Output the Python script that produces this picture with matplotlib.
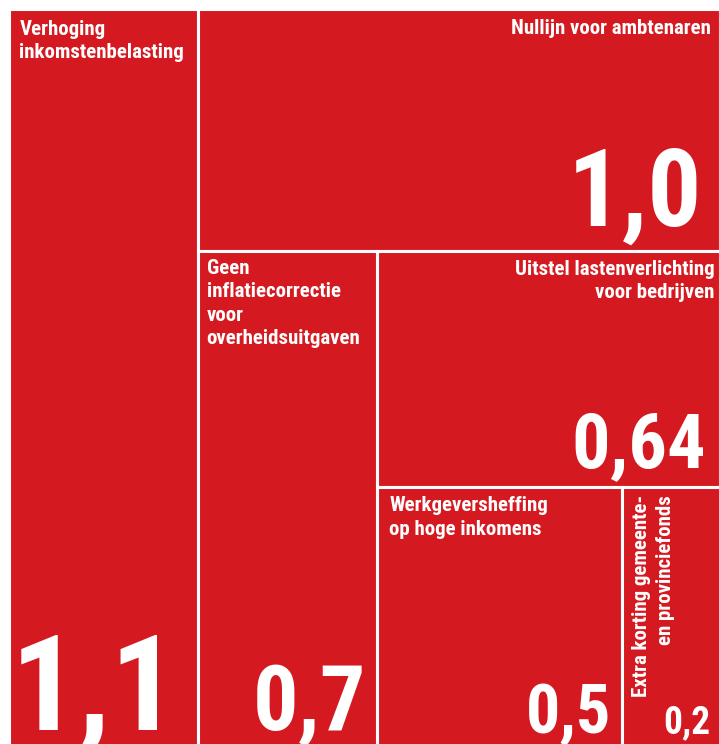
import matplotlib
matplotlib.use('Agg')
import matplotlib.pyplot as plt
from matplotlib.patches import Rectangle

# Data
labels = ['Verhoging\ninkomstenbelasting',
          'Nullijn voor ambtenaren',
          'Geen\ninflatiecorrectie\nvoor\noverheidsuitgaven',
          'Uitstel lastenverlichting\nvoor bedrijven',
          'Werkgeversheffing\nop hoge inkomens',
          'Extra korting gemeente-\nen provinciefonds']
values = [1.1, 1.0, 0.7, 0.64, 0.5, 0.2]
value_texts = ['1,1', '1,0', '0,7', '0,64', '0,5', '0,2']

RED = '#d51920'
FONT = ['Roboto Condensed', 'Liberation Sans', 'DejaVu Sans']


def slice_layout(vals, x, y, w, h):
    # alternate column / row slicing, largest first
    rects = []
    rest = sum(vals)
    vertical = True
    for v in vals:
        frac = v / rest
        if vertical:
            cw = w * frac
            rects.append((x, y, cw, h))
            x += cw
            w -= cw
        else:
            ch = h * frac
            rects.append((x, y, w, ch))
            y += ch
            h -= ch
        rest -= v
        vertical = not vertical
    return rects


W, H = 712, 737
fig = plt.figure(figsize=(7.19, 7.44), dpi=100)
ax = fig.add_axes([8.5 / 719, -1.5 / 744, W / 719, H / 744])
ax.set_xlim(0, W)
ax.set_ylim(H, 0)
ax.axis('off')

rects = slice_layout(values, 0, 0, W, H)
for (x, y, w, h) in rects:
    ax.add_patch(Rectangle((x, y), w, h, facecolor=RED, edgecolor='white',
                           linewidth=2.2, clip_on=False))

# label placement: (corner, dx, dy)
label_pos = [('tl', 11, -11), ('tr', -10, -10), ('tl', 9, -8),
             ('tr', -6, -9), ('tl', 12, -9), ('rot', 10, -8)]
# value placement: (dx, dy, fontsize)
num_pos = [(-19, 16, 96), (-18, 25, 77), (-11, 16, 65),
           (-14, 20, 55), (-11, 12, 49), (-10, 12, 27)]

text_kw = dict(color='white', fontsize=15, fontweight='bold', family=FONT,
               linespacing=1.3, textcoords='offset pixels')

for i, (x, y, w, h) in enumerate(rects):
    corner, dx, dy = label_pos[i]
    if corner == 'tl':
        ax.annotate(labels[i], (x, y), xytext=(dx, dy), ha='left', va='top',
                    **text_kw)
    elif corner == 'tr':
        ax.annotate(labels[i], (x + w, y), xytext=(dx, dy), ha='right', va='top',
                    multialignment='right', **text_kw)
    else:
        ax.annotate(labels[i], (x, y), xytext=(dx, dy), ha='left', va='top',
                    rotation=90, multialignment='right', **text_kw)
    ndx, ndy, size = num_pos[i]
    ax.annotate(value_texts[i], (x + w, y + h), xytext=(ndx, ndy),
                textcoords='offset pixels', ha='right', va='baseline',
                color='white', fontsize=size, fontweight='bold', family=FONT)

fig.savefig('out.png', dpi=100, facecolor='white')
